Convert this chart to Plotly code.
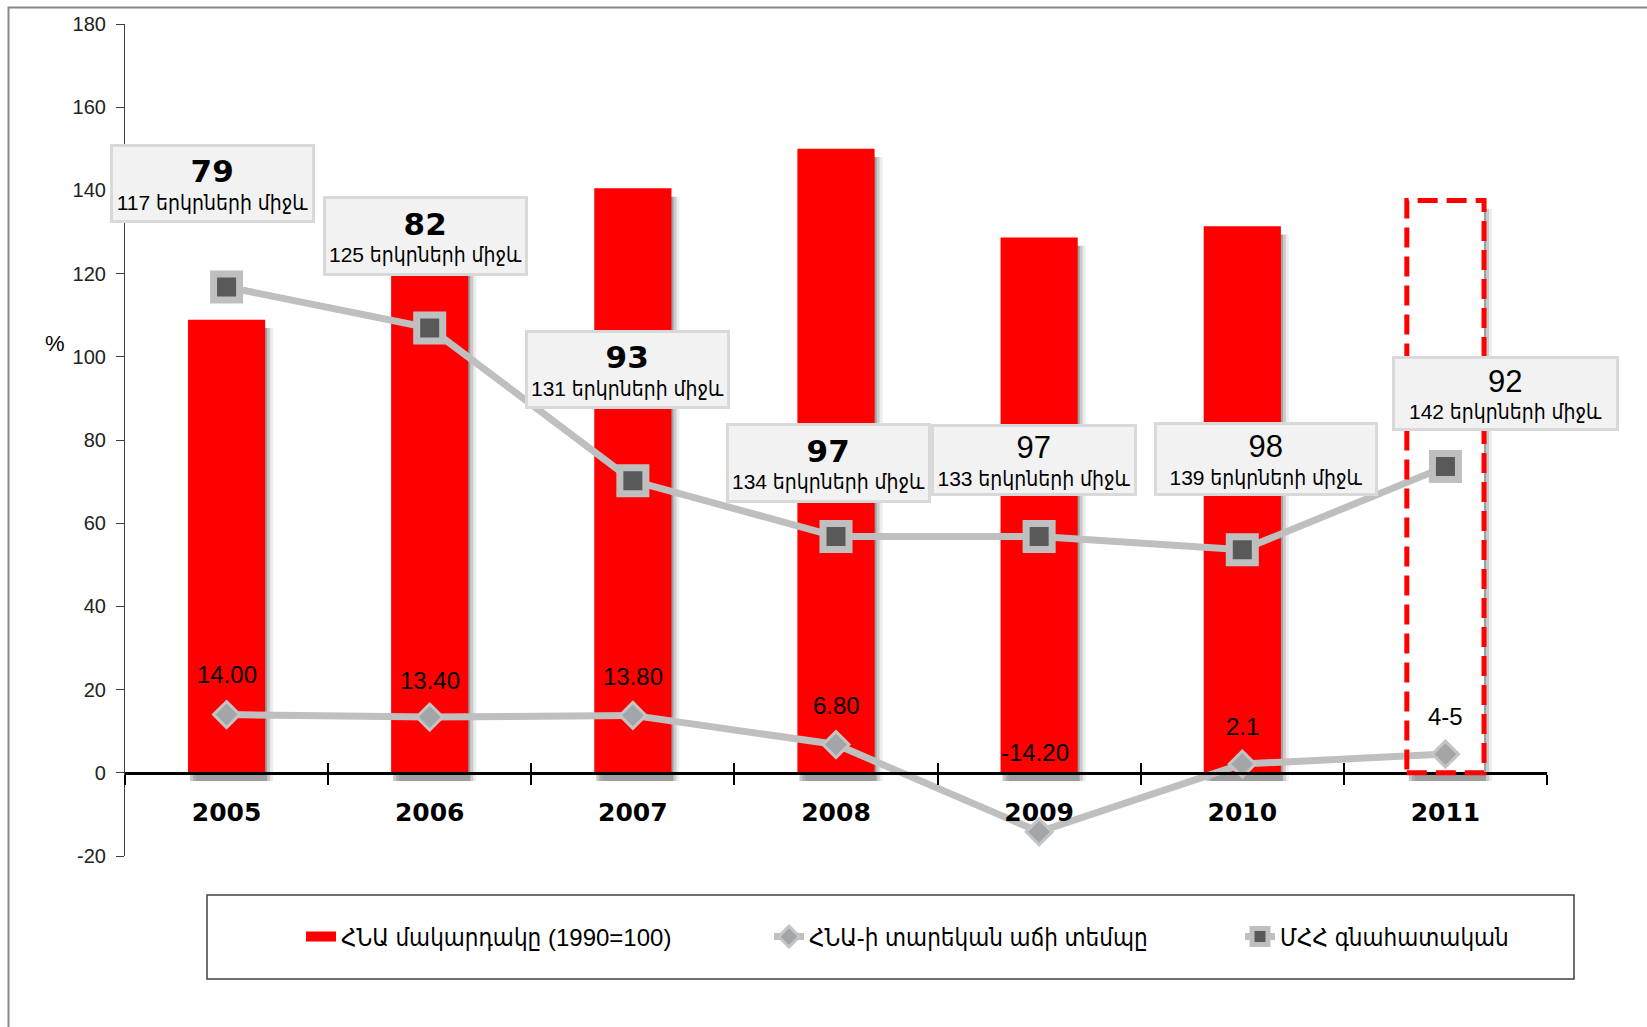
import plotly.graph_objects as go

# ---------------- data ----------------
years = ["2005", "2006", "2007", "2008", "2009", "2010", "2011"]
gdp_level = [108.9, 123.6, 140.5, 150.0, 128.7, 131.4, 137.6]      # ՀՆԱ մակարդակը (1990=100)
growth = [14.0, 13.4, 13.8, 6.8, -14.2, 2.1, 4.5]                  # ՀՆԱ-ի տարեկան աճի տեմպը
growth_labels = ["14.00", "13.40", "13.80", "6.80", "-14.20", "2.1", "4-5"]
gci_line = [116.8, 106.9, 70.2, 56.8, 56.8, 53.6, 73.6]             # ՄՀՀ գնահատական
gci_rank = ["79", "82", "93", "97", "97", "98", "92"]
gci_countries = [117, 125, 131, 134, 133, 139, 142]
gci_bold = [True, True, True, True, False, False, False]
forecast = [False, False, False, False, False, False, True]

series_names = ["ՀՆԱ մակարդակը (1990=100)", "ՀՆԱ-ի տարեկան աճի տեմպը", "ՄՀՀ գնահատական"]
y_ticks = [-20, 0, 20, 40, 60, 80, 100, 120, 140, 160, 180]

# ---------------- layout / style ----------------
W, H = 1647, 1027
L, R, T, B = 125, 1547, 24, 856
PW, PH = R - L, B - T
YMIN, YMAX = -20, 180

def px_x(px):
    return (px - L) / PW

def px_y(py):
    return (B - py) / PH

FONT = "Liberation Sans, Arial, DejaVu Sans Condensed, DejaVu Sans, sans-serif"
HEAVY = "DejaVu Sans, Liberation Sans, Arial, sans-serif"
RED = "#ff0000"
LINE_GRAY = "#bfbfbf"
BAR_W = 0.38

# label box geometry (pixel offsets relative to data point, box sizes)
box_dx = [-14, -4, -5, -8, -5, 24, 60]
box_dy = [103, 92, 111, 74, 77, 91, 73]
box_w = [205, 205, 205, 205, 206, 224, 227]
box_h = [79, 80, 79, 80, 72, 74, 75]
growth_yshift = [40, 37, 39, 39, 79, 38, 38]
growth_xshift = [0, 0, 0, 0, -4, 0, 0]
legend_text_px = [346, 814, 1285]

fig = go.Figure()

# shadows of bars
for off_px, alpha in [(2, 0.22), (5, 0.14), (8, 0.07)]:
    fig.add_trace(go.Bar(
        x=years, y=gdp_level, base=-2,
        width=BAR_W, offset=-BAR_W / 2 + off_px / (PW / 7),
        marker=dict(color=f"rgba(0,0,0,{alpha})", line=dict(width=0)),
        showlegend=False, hoverinfo="skip",
    ))

bar_colors = ["#ffffff" if f else RED for f in forecast]
fig.add_trace(go.Bar(
    x=years, y=gdp_level, width=BAR_W,
    marker=dict(color=bar_colors, line=dict(width=0)),
    name=series_names[0], showlegend=False,
))
# legend entry for the bars (wide red rectangle symbol)
fig.add_trace(go.Scatter(
    x=[years[0]], y=[None], mode="lines",
    line=dict(color=RED, width=18),
    name=series_names[0], legend="legend", hoverinfo="skip",
))

fig.add_trace(go.Scatter(
    x=years, y=growth, mode="lines+markers",
    line=dict(color=LINE_GRAY, width=7),
    marker=dict(symbol="diamond", size=20, color="#a3a6a9",
                line=dict(color="#c4c4c4", width=3)),
    name=series_names[1], legend="legend2",
))

fig.add_trace(go.Scatter(
    x=years, y=gci_line, mode="lines+markers",
    line=dict(color=LINE_GRAY, width=7),
    marker=dict(symbol="square", size=26, color="#595959",
                line=dict(color=LINE_GRAY, width=7)),
    name=series_names[2], legend="legend3",
))

# invisible trace to carry the inner tick marks on the overlay axis
fig.add_trace(go.Scatter(
    x=years, y=growth, xaxis="x2", mode="markers",
    marker=dict(opacity=0), showlegend=False, hoverinfo="skip",
))

shapes = []
# dashed forecast bar
for i, f in enumerate(forecast):
    if f:
        shapes.append(dict(
            type="rect", xref="x", yref="y",
            x0=i - BAR_W / 2, x1=i + BAR_W / 2, y0=0, y1=gdp_level[i],
            line=dict(color=RED, width=5, dash="20px,9px"),
            fillcolor="rgba(0,0,0,0)", layer="above",
        ))

# outer chart frame
shapes.append(dict(
    type="rect", xref="paper", yref="paper",
    x0=px_x(8.5), x1=px_x(1700), y0=px_y(1100), y1=px_y(7.5),
    line=dict(color="#888888", width=2), fillcolor="rgba(0,0,0,0)", layer="below",
))
# legend frame
shapes.append(dict(
    type="rect", xref="paper", yref="paper",
    x0=px_x(207), x1=px_x(1574), y0=px_y(979), y1=px_y(895),
    line=dict(color="#404040", width=1.5), fillcolor="rgba(0,0,0,0)",
))

annotations = []
for i, yr in enumerate(years):
    if gci_bold[i]:
        big = f"<span style='font-size:31px;font-family:DejaVu Sans'><b>{gci_rank[i]}</b></span>"
    else:
        big = f"<span style='font-size:31px'>{gci_rank[i]}</span>"
    annotations.append(dict(
        x=i, y=gci_line[i], xref="x", yref="y",
        xshift=box_dx[i], yshift=box_dy[i],
        text=f"{big}<br>{gci_countries[i]} երկրների միջև",
        showarrow=False, xanchor="center", yanchor="middle",
        width=box_w[i] - 6, height=box_h[i] - 6,
        align="center", valign="middle",
        bgcolor="#f2f2f2", bordercolor="#d9d9d9", borderwidth=3, borderpad=0,
        font=dict(family=FONT, size=21, color="#000000"),
    ))
for i, yr in enumerate(years):
    annotations.append(dict(
        x=i, y=growth[i], xref="x", yref="y",
        xshift=growth_xshift[i], yshift=growth_yshift[i],
        text=growth_labels[i], showarrow=False,
        xanchor="center", yanchor="middle",
        font=dict(family=FONT, size=24, color="#000000"),
    ))
annotations.append(dict(
    x=px_x(55), y=px_y(343), xref="paper", yref="paper",
    text="%", showarrow=False, xanchor="center", yanchor="middle",
    font=dict(family=FONT, size=22, color="#000000"),
))

zero_pos = (0 - YMIN) / (YMAX - YMIN)

def legend_cfg(text_px):
    return dict(
        orientation="h", x=px_x(text_px - 45), y=px_y(937),
        xanchor="left", yanchor="middle",
        font=dict(family=FONT, size=24, color="#000000"),
        bgcolor="rgba(0,0,0,0)", borderwidth=0,
    )

fig.update_layout(
    width=W, height=H,
    margin=dict(l=L, r=W - R, t=T, b=H - B, pad=0),
    paper_bgcolor="#ffffff", plot_bgcolor="#ffffff",
    barmode="overlay",
    font=dict(family=FONT, color="#000000"),
    showlegend=True,
    legend=legend_cfg(legend_text_px[0]),
    legend2=legend_cfg(legend_text_px[1]),
    legend3=legend_cfg(legend_text_px[2]),
    xaxis=dict(
        type="category", categoryorder="array", categoryarray=years,
        range=[-0.5, len(years) - 0.5],
        anchor="free", position=zero_pos,
        showline=True, linecolor="#000000", linewidth=3,
        ticks="outside", ticklen=10, tickwidth=2, tickcolor="#000000",
        tickson="boundaries", showgrid=False, zeroline=False,
        tickfont=dict(family=HEAVY, size=25, color="#000000", weight="bold"),
        ticklabelstandoff=16,
        fixedrange=True,
    ),
    xaxis2=dict(
        type="category", categoryorder="array", categoryarray=years,
        range=[-0.5, len(years) - 0.5],
        overlaying="x", anchor="free", position=zero_pos,
        showline=False, ticks="inside", ticklen=10, tickwidth=2, tickcolor="#000000",
        tickson="boundaries", showgrid=False, zeroline=False, showticklabels=False,
    ),
    yaxis=dict(
        range=[YMIN, YMAX], tickvals=y_ticks, ticktext=[str(v) for v in y_ticks],
        showline=True, linecolor="#404040", linewidth=1.2,
        ticks="outside", ticklen=8, tickcolor="#404040", tickwidth=1.2,
        showgrid=False, zeroline=False,
        tickfont=dict(family=FONT, size=20, color="#222222"),
        ticklabelstandoff=6,
    ),
    shapes=shapes,
    annotations=annotations,
)

fig.write_html("out.html", config={"displayModeBar": False},
               post_script="document.body.style.margin='0px';")
